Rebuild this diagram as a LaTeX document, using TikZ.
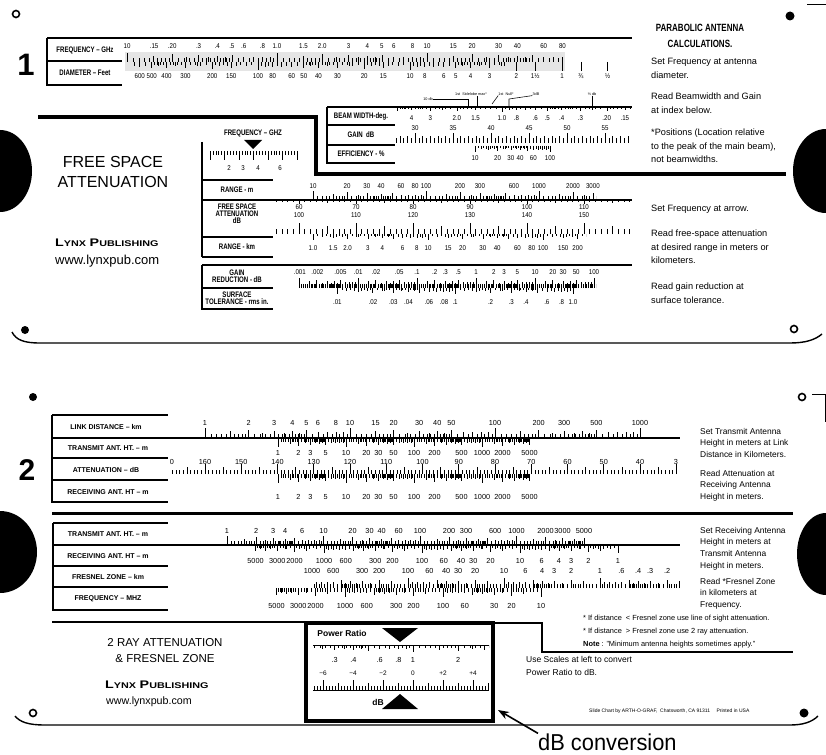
\documentclass[tikz,border=0pt]{standalone}
\usepackage{fontspec}
\setmainfont{Liberation Sans}
\newfontfamily\condfont[FakeStretch=0.76]{Liberation Sans}
\newfontfamily\numfont[FakeStretch=0.88]{Liberation Sans}
\newfontfamily\widefont[FakeStretch=1.3]{Liberation Sans}
\newfontfamily\callfont[FakeStretch=0.95]{Liberation Sans}
\usetikzlibrary{arrows.meta}

\pgfmathdeclarefunction{lg}{1}{\pgfmathparse{ln(#1)/2.302585}}

\tikzset{
	rowlabel/.style={font=\condfont\bfseries\fontsize{8}{7.2}\selectfont, inner sep=0pt, align=center},
	rowlabeltwo/.style={font=\bfseries\fontsize{7}{7}\selectfont, inner sep=0pt},
	scalenum/.style={font=\numfont\fontsize{7}{7}\selectfont, inner sep=0pt},
	scalenumtwo/.style={font=\fontsize{7.3}{7.3}\selectfont, inner sep=0pt},
	tinytext/.style={font=\fontsize{3.8}{3.8}\selectfont, inner sep=0pt},
	noteone/.style={font=\fontsize{9.2}{13.5}\selectfont, inner sep=0pt, anchor=north west, align=left},
	notetwo/.style={font=\fontsize{8.4}{11.7}\selectfont, inner sep=0pt, anchor=north west, align=left},
	scaletick/.style={line width=0.55pt},
	boxline/.style={line width=1.2pt},
	scaleline/.style={line width=1.1pt},
	divider/.style={line width=3.5pt},
	hole/.style={line width=1.6pt},
}

\newcommand\logticks[5]{%
	\foreach \dec in {#5}{
		\foreach \mant/\tlen in {1/1,1.1/.4,1.2/.45,1.3/.4,1.4/.45,1.5/.7,1.6/.45,1.7/.4,1.8/.45,1.9/.4,2/.85,2.2/.4,2.4/.45,2.5/.55,2.6/.4,2.8/.4,3/.75,3.2/.4,3.4/.4,3.5/.5,3.6/.4,3.8/.4,4/.7,4.2/.4,4.4/.4,4.5/.5,4.6/.4,4.8/.4,5/.8,5.5/.45,6/.6,6.5/.45,7/.6,7.5/.45,8/.6,8.5/.45,9/.6,9.5/.45}{
			\draw[scaletick] ({#1+(#2)*(\dec+lg(\mant))},#3) -- ++(0,{(#4)*\tlen});
		}
	}
}
\newcommand\logscale[7]{%
	\begin{scope}
		\clip (#1,{#5-15}) rectangle (#2,{#5+15});
		\logticks{#3}{#4}{#5}{#6}{#7}
	\end{scope}
}
\newcommand\linticks[7]{%
	\foreach \idx in {#3}{
		\pgfmathsetmacro\tlen{0.45+0.25*(mod(\idx,#7)==0)+0.3*(mod(\idx,#6)==0)}
		\draw[scaletick] ({#1+(#2)*\idx},#4) -- ++(0,{(#5)*\tlen});
	}
}
\newcommand\loglabels[6]{%
	\foreach \val/\lab [count=\cnt] in {#6}{
		\node[#4] (#5\cnt) at ({#1+(#2)*lg(\val)},#3) {\lab};
	}
}

\begin{document}
\begin{tikzpicture}[x=1pt,y=-1pt]
	\useasboundingbox (0,0) rectangle (826,754);
	\clip (0,0) rectangle (826,754);

	\draw[hole] (16,14) circle (3.5);
	\fill (790,16) circle (4.5);
	\fill (25,330) circle (4);
	\draw[hole] (794,329) circle (3.5);
	\draw[line width=1pt] (807,5) -- (826,5);
	\fill (0,171) ellipse (32 and 41);
	\fill (826,171) ellipse (33 and 42);
	\draw[line width=1.4pt] (12,332) .. controls (16,340) and (24,343) .. (40,343) -- (790,343) .. controls (805,343) and (815,340) .. (822,334);

	\node[font=\bfseries\fontsize{31}{31}\selectfont, inner sep=0pt] (cardOneNum) at (26,65) {1};

	\fill[black!10] (125,52) rectangle (565,71);
	\draw[boxline] (47,38) -- (632,38);
	\draw[boxline] (47,38) -- (47,85) -- (122,85);
	\draw[boxline] (47,61) -- (122,61);
	\node[rowlabel] (freqGhzLab) at (85,50) {FREQUENCY – GHz};
	\node[rowlabel] (diamLab) at (85,73) {DIAMETER – Feet};
	\logscale{126}{563}{277}{150}{62}{-9}{-1,0,1}
	\loglabels{277}{150}{46}{scalenum}{freqNum}{0.1/10,0.15/.15,0.2/.20,0.3/.3,0.4/.4,0.5/.5,0.6/.6,0.8/.8,1/1.0,1.5/1.5,2/2.0,3/3,4/4,5/5,6/6,8/8,10/10,15/15,20/20,30/30,40/40,60/60,80/80}
	\logscale{130}{505}{562}{-152}{62}{8}{0,1,2}
	\foreach \val in {2,1.5,1,0.75,0.5}{
		\draw[scaletick] ({562-152*lg(\val)},62) -- ++(0,9);
	}
	\loglabels{562}{-152}{76}{scalenum}{diamNum}{600/600,500/500,400/400,300/300,200/200,150/150,100/100,80/80,60/60,50/50,40/40,30/30,20/20,15/15,10/10,8/8,6/6,5/5,4/4,3/3,2/2,1.5/1½,1/1,0.75/¾,0.5/½}

	\node[font=\condfont\bfseries\fontsize{10.5}{16}\selectfont, align=center, inner sep=0pt] (paraTitle) at (700,36) {PARABOLIC ANTENNA\\CALCULATIONS.};
	\node[noteone] (noteSetFreq) at (651,58) {Set Frequency at antenna\\diameter.};
	\node[noteone] (noteReadBeam) at (651,93) {Read Beamwidth and Gain\\at index below.};
	\node[noteone] (notePositions) at (651,129) {*Positions (Location relative\\to the peak of the main beam),\\not beamwidths.};

	\draw[boxline] (327,107) -- (632,107);
	\draw[boxline] (327,107) -- (327,163) -- (395,163);
	\draw[boxline] (327,125) -- (395,125);
	\draw[boxline] (327,145) -- (395,145);
	\node[rowlabel] (beamLab) at (361,116) {BEAM WIDTH-deg.};
	\node[rowlabel] (gainLab) at (361,135) {GAIN\ \ dB};
	\node[rowlabel] (effLab) at (361,154) {EFFICIENCY - \%};
	\logscale{396}{632}{502}{-150}{107}{5}{-1,0}
	\loglabels{502}{-150}{118}{scalenum}{beamNum}{4/4,3/3,2/2.0,1.5/1.5,1/1.0,0.8/.8,0.6/.6,0.5/.5,0.4/.4,0.3/.3,0.2/.20,0.15/.15}
	\linticks{415}{3.8}{-5,...,56}{143}{-10}{10}{2}
	\foreach \g [count=\cnt] in {30,35,...,55}{
		\node[scalenum] (gainNum\cnt) at ({415+7.6*(\g-30)},128) {\g};
	}
	\logscale{474}{552}{400}{75}{146}{6}{1,2}
	\loglabels{400}{75}{158}{scalenum}{effNum}{10/10,20/20,30/30,40/40,60/60,100/100}

	\node[tinytext] (tenDbLab) at (428,99) {10 db};
	\node[tinytext] (sideLobeLab) at (471,94) {1st\ \ Sidelobe max*};
	\node[tinytext] (nullLab) at (506,94) {1st\ \ Null*};
	\node[tinytext] (threeDbLab) at (536,94) {3dB};
	\node[tinytext] (halfDbLab) at (592,94) {½ db};
	\draw[scaletick] (tenDbLab.east) -- (468,99) -- (468,107);
	\draw[scaletick] (477,96) -- (477,107);
	\draw[scaletick] (nullLab.south west) -- (492,104);
	\draw[scaletick] (threeDbLab.south west) -- (509,99) -- (509,107);
	\draw[scaletick] (halfDbLab.south) -- (592,107);

	\draw[divider, line width=4pt] (38,117) -- (316,117) -- (316,174) -- (786,174);

	\node[font=\fontsize{16}{20}\selectfont, align=center, inner sep=0pt] (fsaTitle) at (113,172) {FREE SPACE\\ATTENUATION};
	\node[font=\widefont\bfseries, anchor=west, inner sep=0pt] (lynxOne) at (55,243) {{\fontsize{11}{11}\selectfont L}{\fontsize{8.3}{8.3}\selectfont YNX} {\fontsize{11}{11}\selectfont P}{\fontsize{8.3}{8.3}\selectfont UBLISHING}};
	\node[font=\fontsize{13}{13}\selectfont, anchor=west, inner sep=0pt] (webOne) at (55,261) {www.lynxpub.com};

	\draw[boxline] (202,142) -- (202,257);
	\draw[boxline] (202,180) -- (273,180);
	\draw[boxline] (202,200) -- (632,200);
	\draw[boxline] (202,237) -- (273,237);
	\draw[boxline] (202,257) -- (273,257);
	\node[rowlabel] (miniFreqLab) at (253,133) {FREQUENCY – GHZ};
	\fill (244,140) -- (262,140) -- (253,149) -- cycle;
	\linticks{210}{2.9}{0,...,30}{151}{9}{5}{5}
	\foreach \val/\xpos [count=\cnt] in {2/229,3/243,4/258,6/280}{
		\node[scalenum] (miniFreqNum\cnt) at (\xpos,168) {\val};
	}
	\node[rowlabel] (rangeMLab) at (237,190) {RANGE - m};
	\node[rowlabel] (fsaLab) at (237,214) {FREE SPACE\\ATTENUATION\\dB};
	\node[rowlabel] (rangeKmLab) at (237,247) {RANGE - km};
	\logscale{312}{596}{200}{113}{200}{-9}{1,2,3}
	\loglabels{200}{113}{186}{scalenum}{rangeMNum}{10/10,20/20,30/30,40/40,60/60,80/80,100/100,200/200,300/300,600/600,1000/1000,2000/2000,3000/3000}
	\linticks{299}{5.7}{-4,...,58}{200}{4}{10}{5}
	\linticks{299}{5.7}{-4,...,58}{234}{-11}{10}{5}
	\foreach \a [count=\cnt] in {60,70,...,110}{
		\pgfmathtruncatemacro\b{\a+40}
		\node[scalenum] (attTopNum\cnt) at ({299+5.7*(\a-60)},207) {\a};
		\node[scalenum] (attBotNum\cnt) at ({299+5.7*(\a-60)},215) {\b};
	}
	\logscale{312}{586}{313}{115}{234}{6}{0,1,2}
	\loglabels{313}{115}{248}{scalenum}{rangeKmNum}{1/1.0,1.5/1.5,2/2.0,3/3,4/4,6/6,8/8,10/10,15/15,20/20,30/30,40/40,60/60,80/80,100/100,150/150,200/200}

	\draw[boxline] (202,265) -- (632,265);
	\draw[boxline] (202,265) -- (202,309) -- (273,309);
	\draw[boxline] (202,288) -- (273,288);
	\node[rowlabel] (gainRedLab) at (237,276) {GAIN\\REDUCTION - dB};
	\node[rowlabel] (surfLab) at (237,298) {SURFACE\\TOLERANCE - rms in.};
	\logscale{297}{596}{476}{59}{288}{-10}{-3,-2,-1,0,1,2}
	\loglabels{476}{59}{272}{scalenum}{gainRedNum}{0.001/.001,0.002/.002,0.005/.005,0.01/.01,0.02/.02,0.05/.05,0.1/.1,0.2/.2,0.3/.3,0.5/.5,1/1,2/2,3/3,5/5,10/10,20/20,30/30,50/50,100/100}
	\logscale{336}{575}{573}{118}{288}{6}{-2,-1,0}
	\loglabels{573}{118}{302}{scalenum}{tolNum}{0.01/.01,0.02/.02,0.03/.03,0.04/.04,0.06/.06,0.08/.08,0.1/.1,0.2/.2,0.3/.3,0.4/.4,0.6/.6,0.8/.8,1/1.0}

	\node[noteone] (noteArrow) at (651,205) {Set Frequency at arrow.};
	\node[noteone] (noteFsa) at (651,230) {Read free-space attenuation\\at desired range in meters or\\kilometers.};
	\node[noteone] (noteGainRed) at (651,283) {Read gain reduction at\\surface tolerance.};

	\fill (33,397) circle (4);
	\draw[hole] (802,397) circle (3.5);
	\draw[line width=1pt] (812,394) -- (826,394);
	\draw[line width=1pt] (825,394) -- (825,422);
	\fill (0,552) ellipse (37 and 41);
	\fill (826,554) ellipse (29 and 41);
	\draw[hole] (33,713) circle (3.5);
	\fill (804,713) circle (4.5);
	\draw[line width=1.4pt] (15,716) .. controls (20,722) and (28,725) .. (45,725) -- (790,725) .. controls (803,725) and (812,722) .. (818,716);

	\node[font=\bfseries\fontsize{30}{30}\selectfont, inner sep=0pt] (cardTwoNum) at (27,470) {2};

	\draw[boxline] (52,415) -- (168,415);
	\draw[boxline] (52,415) -- (52,502) -- (168,502);
	\draw[scaleline] (52,438) -- (680,438);
	\draw[boxline] (52,458) -- (168,458);
	\draw[boxline] (52,480) -- (168,480);
	\node[rowlabeltwo] (linkLab) at (106,427) {LINK DISTANCE – km};
	\node[rowlabeltwo] (txLab) at (108,448) {TRANSMIT ANT. HT. – m};
	\node[rowlabeltwo] (attLab) at (106,470) {ATTENUATION – dB};
	\node[rowlabeltwo] (rxLab) at (108,492) {RECEIVING ANT. HT – m};
	\logscale{204}{641}{205}{145}{438}{-10}{0,1,2,3}
	\loglabels{205}{145}{423}{scalenumtwo}{linkNum}{1/1,2/2,3/3,4/4,5/5,6/6,8/8,10/10,15/15,20/20,30/30,40/40,50/50,100/100,200/200,300/300,500/500,1000/1000}
	\logscale{277}{531}{278}{68}{438}{9}{0,1,2,3}
	\loglabels{278}{68}{453}{scalenumtwo}{txNum}{1/1,2/2,3/3,5/5,10/10,20/20,30/30,50/50,100/100,200/200,500/500,1000/1000,2000/2000,5000/5000}
	\linticks{205}{3.625}{-9,...,130}{474}{-10}{10}{5}
	\foreach \a [count=\cnt] in {160,150,...,40}{
		\node[scalenumtwo] (attNum\cnt) at ({205+3.625*(160-\a)},462) {\a};
	}
	\node[scalenumtwo] (attNumLeft) at (172,462) {0};
	\node[scalenumtwo] (attNumRight) at (676,462) {3};
	\logscale{277}{531}{278}{68}{474}{9}{0,1,2,3}
	\loglabels{278}{68}{497}{scalenumtwo}{rxNum}{1/1,2/2,3/3,5/5,10/10,20/20,30/30,50/50,100/100,200/200,500/500,1000/1000,2000/2000,5000/5000}

	\node[notetwo] (noteSetTx) at (700,428) {Set Transmit Antenna\\Height in meters at Link\\Distance in Kilometers.};
	\node[notetwo] (noteReadAtt) at (700,470) {Read Attenuation at\\Receiving Antenna\\Height in meters.};

	\draw[divider, line width=3pt] (52,513) -- (793,513);

	\draw[boxline] (53,523) -- (168,523);
	\draw[boxline] (53,523) -- (53,610) -- (168,610);
	\draw[scaleline] (53,545) -- (680,545);
	\draw[boxline] (53,566) -- (168,566);
	\draw[boxline] (53,587) -- (168,587);
	\node[rowlabeltwo] (tx2Lab) at (108,534) {TRANSMIT ANT. HT. – m};
	\node[rowlabeltwo] (rx2Lab) at (108,556) {RECEIVING ANT. HT – m};
	\node[rowlabeltwo] (fresLab) at (108,577) {FRESNEL ZONE – km};
	\node[rowlabeltwo] (mhzLab) at (108,599) {FREQUENCY – MHZ};
	\logscale{226}{586}{227}{96.5}{545}{-9}{0,1,2,3}
	\loglabels{227}{96.5}{531}{scalenumtwo}{tx2Num}{1/1,2/2,3/3,4/4,6/6,10/10,20/20,30/30,40/40,60/60,100/100,200/200,300/300,600/600,1000/1000,2000/2000,3000/3000,5000/5000}
	\logscale{254}{619}{618}{-98}{545}{8}{0,1,2,3}
	\loglabels{618}{-98}{561}{scalenumtwo}{rx2Num}{5000/5000,3000/3000,2000/2000,1000/1000,600/600,300/300,200/200,100/100,60/60,40/40,30/30,20/20,10/10,6/6,4/4,3/3,2/2,1/1}
	\logscale{311}{680}{600}{-96}{588}{-10}{-1,0,1,2}
	\loglabels{600}{-96}{571}{scalenumtwo}{fresNum}{1000/1000,600/600,300/300,200/200,100/100,60/60,40/40,30/30,20/20,10/10,6/6,4/4,3/3,2/2,1/1,0.6/.6,0.4/.4,0.3/.3,0.2/.2}
	\logscale{275}{542}{639}{-98}{588}{9}{1,2,3}
	\loglabels{639}{-98}{606}{scalenumtwo}{mhzNum}{5000/5000,3000/3000,2000/2000,1000/1000,600/600,300/300,200/200,100/100,60/60,30/30,20/20,10/10}

	\node[notetwo] (noteSetRx) at (700,527) {Set Receiving Antenna\\Height in meters at\\Transmit Antenna\\Height in meters.};
	\node[notetwo] (noteFresnel) at (700,578) {Read *Fresnel Zone\\in kilometers at\\Frequency.};
	\node[font=\fontsize{7.4}{13}\selectfont, inner sep=0pt, anchor=north west, align=left] (noteIfDist) at (583,615) {* If distance\ \ < Fresnel zone use line of sight attenuation.\\* If distance\ \ > Fresnel zone use 2 ray attenuation.\\\textbf{Note} : "Minimum antenna heights sometimes apply."};

	\draw[divider, line width=2.5pt] (52,622) -- (306,622);
	\draw[divider, line width=2.5pt] (493,623) -- (542,623) -- (542,652) -- (793,652);
	\draw[line width=4pt] (306,623) rectangle (493,721);

	\node[font=\fontsize{11.5}{16}\selectfont, align=center, inner sep=0pt] (rayTitle) at (165,651) {2 RAY ATTENUATION\\\& FRESNEL ZONE};
	\node[font=\widefont\bfseries, anchor=west, inner sep=0pt] (lynxTwo) at (105,685) {{\fontsize{11}{11}\selectfont L}{\fontsize{8.3}{8.3}\selectfont YNX} {\fontsize{11}{11}\selectfont P}{\fontsize{8.3}{8.3}\selectfont UBLISHING}};
	\node[font=\fontsize{10.7}{10.7}\selectfont, anchor=west, inner sep=0pt] (webTwo) at (106,702) {www.lynxpub.com};

	\node[font=\bfseries\fontsize{8.5}{8.5}\selectfont, inner sep=0pt] (powerRatioLab) at (342,633) {Power Ratio};
	\fill (382,628) -- (418,628) -- (400,642) -- cycle;
	\draw[scaletick] (313,645) -- (489,645);
	\logscale{313}{489}{413}{150}{645}{7}{-1,0}
	\loglabels{413}{150}{660}{scalenumtwo}{prNum}{0.3/.3,0.4/.4,0.6/.6,0.8/.8,1/1,2/2}
	\draw[scaletick] (313,690) -- (489,690);
	\linticks{413}{3}{-33,...,25}{690}{-10}{10}{5}
	\foreach \d/\lab [count=\cnt] in {-6/−6,-4/−4,-2/−2,0/0,2/+2,4/+4}{
		\node[scalenumtwo, font=\fontsize{6.5}{6.5}\selectfont] (dbNum\cnt) at ({413+15*\d},673) {\lab};
	}
	\node[font=\bfseries\fontsize{8.5}{8.5}\selectfont, inner sep=0pt] (dbLab) at (378,702) {dB};
	\fill (382,709) -- (418,709) -- (400,694) -- cycle;

	\node[font=\fontsize{8.5}{13}\selectfont, inner sep=0pt, anchor=north west, align=left] (noteUseScales) at (526,656) {Use Scales at left to convert\\Power Ratio to dB.};
	\node[font=\fontsize{5}{5}\selectfont, inner sep=0pt, anchor=west] (slideChart) at (589,711) {Slide Chart by ARTH-O-GRAF,\ \ Chatsworth, CA 91311\quad\ Printed in USA};

	\node[font=\callfont\fontsize{23}{23}\selectfont, anchor=west, inner sep=0pt] (dbNote) at (538,742) {dB conversion};
	\coordinate (dbBoxCorner) at (498,710);
	\draw[line width=1.6pt, -{Stealth[length=11pt,width=8pt]}] (dbNote.north west) -- (dbBoxCorner);
\end{tikzpicture}
\end{document}
